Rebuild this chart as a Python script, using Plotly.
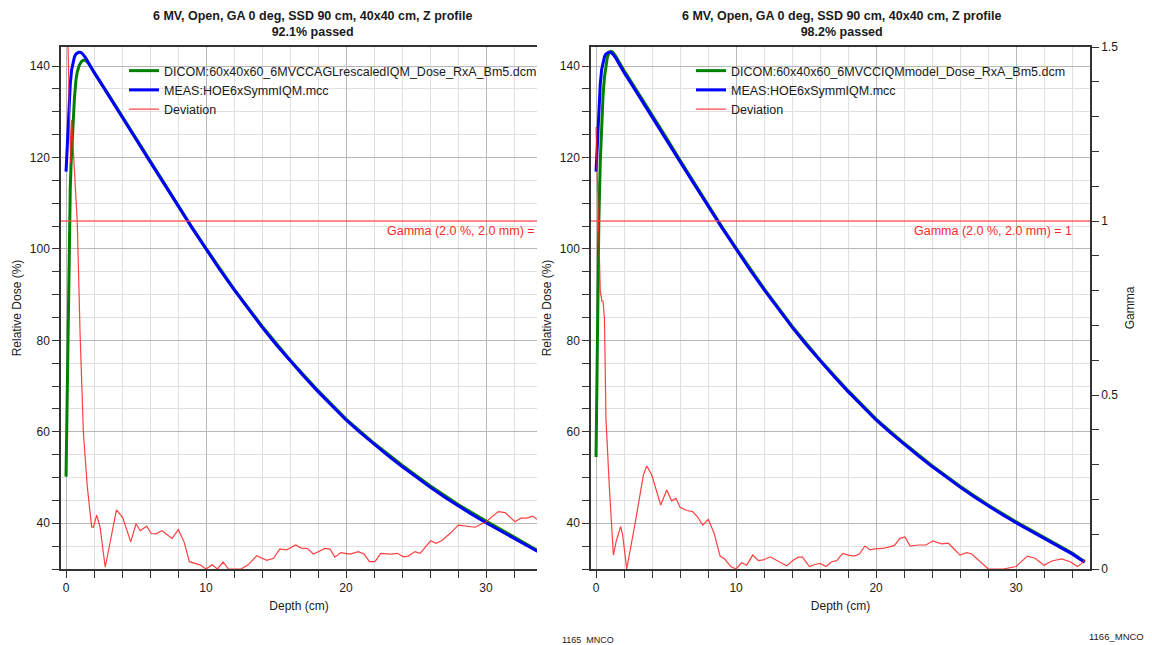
import plotly.graph_objects as go

# ---------------- data ----------------
MEAS_DEPTH = [0, 0.1, 0.2, 0.3, 0.4, 0.5, 0.6, 0.7, 0.8, 0.9, 1.0, 1.1, 1.2, 1.4, 1.6, 1.8,
              2.0, 2.5, 3, 4, 5, 6, 7, 8, 9, 10, 11, 12, 13, 14, 15, 16, 17, 18, 19, 20,
              21, 22, 23, 24, 25, 26, 27, 28, 29, 30, 31, 32, 33, 34, 34.9]
MEAS_DOSE = [116.9, 124.5, 131.0, 136.0, 139.2, 141.0, 142.0, 142.6, 142.9, 143.0, 143.0, 142.9,
             142.6, 141.8, 140.7, 139.6, 138.6, 136.2, 133.8, 128.9, 124.0, 119.1, 114.2, 109.3,
             104.6, 100.0, 95.4, 91.1, 86.9, 82.9, 79.1, 75.5, 72.1, 68.8, 65.6, 62.6,
             59.9, 57.3, 54.8, 52.4, 50.1, 47.9, 45.8, 43.8, 41.9, 40.1, 38.4, 36.7, 35.0, 33.3, 31.5]

CALC_L_DEPTH = [0, 0.05, 0.1, 0.15, 0.2, 0.24, 0.3, 0.36, 0.45, 0.52, 0.6, 0.71, 0.8, 0.95,
                1.1, 1.25, 1.4, 1.6, 1.8, 2.0, 2.5, 3, 4, 5, 6, 7, 8, 9, 10, 12, 14, 16, 18,
                20, 22, 24, 26, 28, 30, 32, 33, 34, 34.9]
CALC_L_DOSE = [50.2, 62.0, 72.0, 80.0, 92.0, 106.0, 113.0, 118.7, 124.5, 129.7, 133.0, 137.0,
               138.7, 140.2, 141.0, 141.3, 141.2, 140.6, 139.7, 138.7, 136.3, 133.9, 129.0,
               124.1, 119.2, 114.3, 109.4, 104.7, 100.1, 91.2, 83.1, 75.7, 69.0, 62.8, 57.5,
               52.7, 48.2, 44.1, 40.5, 37.0, 35.4, 33.7, 31.9]

CALC_R_DEPTH = [0, 0.05, 0.1, 0.15, 0.2, 0.3, 0.4, 0.5, 0.6, 0.7, 0.8, 0.9, 1.0, 1.1, 1.2, 1.4,
                1.6, 1.8, 2.0, 2.5, 3, 4, 5, 6, 7, 8, 9, 10, 12, 14, 16, 18, 20, 22, 24, 26,
                28, 30, 32, 34, 34.9]
CALC_R_DOSE = [54.5, 68.0, 82.0, 95.0, 106.0, 119.0, 127.5, 133.5, 137.5, 140.2, 141.8, 142.7,
               143.1, 143.2, 143.0, 142.2, 141.1, 140.0, 139.0, 136.6, 134.2, 129.3, 124.4,
               119.4, 114.5, 109.6, 104.8, 100.2, 91.3, 83.1, 75.7, 69.0, 62.8, 57.5, 52.6,
               48.1, 44.0, 40.3, 36.9, 33.5, 31.6]

GAMMA_L_DEPTH = [0.0, 0.33, 0.4, 0.8, 1.0, 1.24, 1.52, 1.83, 1.95, 2.19, 2.43, 2.8, 3.6, 4.05,
                 4.62, 5.0, 5.3, 5.76, 6.08, 6.43, 6.85, 7.58, 8.02, 8.43, 8.81, 9.57, 10.0,
                 10.43, 10.81, 11.22, 11.6, 12.5, 13.0, 13.62, 14.33, 14.83, 15.27, 15.76,
                 16.4, 16.8, 17.24, 17.67, 18.5, 18.86, 19.2, 19.62, 20.29, 20.88, 21.29,
                 21.67, 22.07, 22.48, 23.2, 23.67, 24.1, 24.45, 24.93, 25.29, 26.05, 26.43,
                 26.83, 27.48, 28.02, 28.62, 29.21, 30.0, 30.88, 31.36, 32.07, 32.48, 32.9,
                 33.33, 33.62, 34.0]
GAMMA_L = [1.75, 1.166, 1.29, 1.0, 0.68, 0.39, 0.236, 0.121, 0.12, 0.155, 0.12, 0.005, 0.17,
           0.148, 0.078, 0.13, 0.11, 0.123, 0.102, 0.101, 0.11, 0.088, 0.113, 0.078, 0.021,
           0.012, 0.0, 0.012, 0.0, 0.02, 0.0, 0.0, 0.012, 0.038, 0.025, 0.031, 0.058, 0.055,
           0.069, 0.06, 0.059, 0.043, 0.059, 0.057, 0.034, 0.047, 0.043, 0.05, 0.043, 0.021,
           0.021, 0.045, 0.043, 0.045, 0.035, 0.037, 0.05, 0.045, 0.081, 0.074, 0.081, 0.104,
           0.126, 0.124, 0.12, 0.136, 0.165, 0.162, 0.136, 0.146, 0.146, 0.152, 0.143, 0.145]

GAMMA_R_DEPTH = [0.0, 0.1, 0.2, 0.3, 0.42, 0.5, 0.6, 0.71, 0.95, 1.24, 1.43, 1.76, 1.9, 2.19,
                 2.79, 3.38, 3.62, 3.98, 4.62, 5.05, 5.4, 5.71, 6.0, 6.48, 6.9, 7.24, 7.62,
                 8.02, 8.43, 8.86, 9.21, 9.62, 10.0, 10.4, 10.76, 11.19, 11.6, 11.95, 12.43,
                 13.02, 13.62, 14.1, 14.45, 14.74, 15.24, 15.64, 16.0, 16.43, 16.83, 17.19,
                 17.62, 18.02, 18.43, 18.81, 19.21, 19.57, 19.93, 20.5, 21.0, 21.3, 21.71,
                 22.07, 22.43, 23.02, 23.57, 24.05, 24.69, 25.17, 26.0, 26.48, 26.83, 28.02,
                 29.1, 30.0, 30.81, 31.36, 32.0, 32.55, 33.26, 33.86, 34.38, 34.69, 34.93]
GAMMA_R = [1.27, 1.12, 0.97, 0.8, 0.77, 0.77, 0.72, 0.43, 0.236, 0.04, 0.078, 0.122, 0.098,
           0.0, 0.131, 0.27, 0.296, 0.27, 0.184, 0.227, 0.196, 0.203, 0.177, 0.168, 0.165,
           0.15, 0.126, 0.143, 0.103, 0.037, 0.028, 0.007, 0.0, 0.018, 0.011, 0.04, 0.024,
           0.026, 0.035, 0.021, 0.009, 0.026, 0.034, 0.034, 0.007, 0.013, 0.016, 0.007, 0.021,
           0.024, 0.045, 0.04, 0.037, 0.043, 0.066, 0.055, 0.058, 0.059, 0.063, 0.067, 0.088,
           0.092, 0.066, 0.069, 0.069, 0.081, 0.072, 0.074, 0.04, 0.047, 0.043, 0.0, 0.0,
           0.007, 0.037, 0.031, 0.011, 0.023, 0.029, 0.021, 0.007, 0.016, 0.028]

GAMMA_LIMIT = 1.0
TITLE_LINE = "6 MV, Open, GA 0 deg, SSD 90 cm, 40x40 cm, Z profile"
PASS_L = "92.1% passed"
PASS_R = "98.2% passed"
NAME_CALC_L = "DICOM:60x40x60_6MVCCAGLrescaledIQM_Dose_RxA_Bm5.dcm"
NAME_CALC_R = "DICOM:60x40x60_6MVCCIQMmodel_Dose_RxA_Bm5.dcm"
NAME_MEAS = "MEAS:HOE6xSymmIQM.mcc"
NAME_DEV = "Deviation"
GAMMA_TEXT_L = "Gamma (2.0 %, 2.0 mm) ="
GAMMA_TEXT_R = "Gamma (2.0 %, 2.0 mm) = 1"

# ---------------- styling ----------------
W, H = 1152, 645
FONT = "Liberation Sans, Arial, sans-serif"
GREEN = "rgb(0,128,0)"
BLUE = "rgb(0,0,255)"
RED = "rgba(255,30,30,0.85)"
RED_LINE = "rgba(255,70,70,0.85)"
AXC = "#333333"
GRID_MAJ = "#b8b8b8"
GRID_MIN = "#e0e0e0"

def px_x(p):
    return p / W

def px_y(p):
    return 1 - p / H

Y_DOM = [px_y(569), px_y(47)]
XL_DOM = [px_x(61), px_x(537)]
XR_DOM = [px_x(591), px_x(1090)]

fig = go.Figure()

# left panel
fig.add_trace(go.Scatter(x=CALC_L_DEPTH, y=CALC_L_DOSE, mode="lines", name=NAME_CALC_L,
                         line=dict(color=GREEN, width=3), xaxis="x", yaxis="y", legend="legend"))
fig.add_trace(go.Scatter(x=MEAS_DEPTH, y=MEAS_DOSE, mode="lines", name=NAME_MEAS,
                         line=dict(color=BLUE, width=3), xaxis="x", yaxis="y", legend="legend"))
fig.add_trace(go.Scatter(x=GAMMA_L_DEPTH, y=GAMMA_L, mode="lines", name=NAME_DEV,
                         line=dict(color=RED, width=1.2), xaxis="x", yaxis="y2", legend="legend"))
# right panel
fig.add_trace(go.Scatter(x=CALC_R_DEPTH, y=CALC_R_DOSE, mode="lines", name=NAME_CALC_R,
                         line=dict(color=GREEN, width=3), xaxis="x2", yaxis="y3", legend="legend2"))
fig.add_trace(go.Scatter(x=MEAS_DEPTH, y=MEAS_DOSE, mode="lines", name=NAME_MEAS,
                         line=dict(color=BLUE, width=3), xaxis="x2", yaxis="y3", legend="legend2"))
fig.add_trace(go.Scatter(x=GAMMA_R_DEPTH, y=GAMMA_R, mode="lines", name=NAME_DEV,
                         line=dict(color=RED, width=1.2), xaxis="x2", yaxis="y4", legend="legend2"))

tickfont = dict(family=FONT, size=12, color="#1a1a1a")
titlefont = dict(family=FONT, size=12, color="#1a1a1a")

def xaxis(domain, anchor, rng):
    return dict(domain=domain, anchor=anchor, range=rng, tick0=0, dtick=10,
                ticks="outside", ticklen=7, tickcolor=AXC, tickwidth=1,
                showline=True, linecolor=AXC, linewidth=1.5, mirror=True,
                showgrid=True, gridcolor=GRID_MAJ, gridwidth=1, zeroline=False,
                tickfont=tickfont, automargin=False,
                title=dict(text="Depth (cm)", font=titlefont, standoff=7),
                minor=dict(dtick=2, ticks="outside", ticklen=7, tickcolor=AXC,
                           showgrid=True, gridcolor=GRID_MIN, gridwidth=1))

def doseaxis(anchor):
    return dict(domain=Y_DOM, anchor=anchor, range=[30, 144.16], tick0=0, dtick=20,
                ticks="outside", ticklen=7, tickcolor=AXC, tickwidth=1,
                showline=True, linecolor=AXC, linewidth=1.5, mirror=False,
                showgrid=True, gridcolor=GRID_MAJ, gridwidth=1, zeroline=False,
                tickfont=tickfont, automargin=False,
                title=dict(text="Relative Dose (%)", font=titlefont, standoff=6),
                minor=dict(dtick=5, ticks="outside", ticklen=7, tickcolor=AXC,
                           showgrid=True, gridcolor=GRID_MIN, gridwidth=1))

legend_font = dict(family=FONT, size=12.5, color="#1a1a1a")

layout = dict(
    template="none",
    width=W, height=H, autosize=False,
    margin=dict(l=0, r=0, t=0, b=0, pad=0),
    paper_bgcolor="white", plot_bgcolor="white",
    font=dict(family=FONT, size=12, color="#1a1a1a"),
    showlegend=True,
    xaxis=xaxis(XL_DOM, "y", [-0.36, 33.64]),
    yaxis=doseaxis("x"),
    yaxis2=dict(overlaying="y", side="right", anchor="x", range=[0, 1.5], visible=False,
                showgrid=False, automargin=False),
    xaxis2=xaxis(XR_DOM, "y3", [-0.36, 35.28]),
    yaxis3=doseaxis("x2"),
    yaxis4=dict(overlaying="y3", side="right", anchor="x2", range=[0, 1.5], tick0=0, dtick=0.5,
                ticks="outside", ticklen=7, tickcolor=AXC, showline=True, linecolor=AXC,
                linewidth=1.5, showgrid=False, zeroline=False, tickfont=tickfont,
                automargin=False,
                title=dict(text="Gamma", font=titlefont, standoff=8),
                minor=dict(dtick=0.1, ticks="outside", ticklen=7, tickcolor=AXC, showgrid=False)),
    legend=dict(x=px_x(124), y=px_y(56), xanchor="left", yanchor="top",
                bgcolor="rgba(255,255,255,0)", borderwidth=0,
                font=legend_font, tracegroupgap=0),
    legend2=dict(x=px_x(691), y=px_y(56), xanchor="left", yanchor="top",
                 bgcolor="rgba(255,255,255,0)", borderwidth=0,
                 font=legend_font, tracegroupgap=0),
    shapes=[
        dict(type="line", xref="x domain", x0=0, x1=1, yref="y2", y0=GAMMA_LIMIT,
             y1=GAMMA_LIMIT, line=dict(color=RED_LINE, width=1.5), layer="above"),
        dict(type="line", xref="x2 domain", x0=0, x1=1, yref="y4", y0=GAMMA_LIMIT,
             y1=GAMMA_LIMIT, line=dict(color=RED_LINE, width=1.5), layer="above"),
    ],
    annotations=[
        dict(text=f"<b>{TITLE_LINE}<br>{PASS_L}</b>", xref="paper", yref="paper",
             x=px_x(312), y=px_y(24), xanchor="center", yanchor="middle", showarrow=False,
             font=dict(family=FONT, size=12.5, color="#1a1a1a")),
        dict(text=f"<b>{TITLE_LINE}<br>{PASS_R}</b>", xref="paper", yref="paper",
             x=px_x(841), y=px_y(24), xanchor="center", yanchor="middle", showarrow=False,
             font=dict(family=FONT, size=12.5, color="#1a1a1a")),
        dict(text=GAMMA_TEXT_L, xref="x", yref="y2", x=22.75, y=GAMMA_LIMIT,
             xanchor="left", yanchor="top", showarrow=False, yshift=-1,
             font=dict(family=FONT, size=12.5, color="rgb(255,40,40)")),
        dict(text=GAMMA_TEXT_R, xref="x2", yref="y4", x=22.6, y=GAMMA_LIMIT,
             xanchor="left", yanchor="top", showarrow=False, yshift=-1,
             font=dict(family=FONT, size=12.5, color="rgb(255,40,40)")),
        dict(text="1165  MNCO", xref="paper", yref="paper", x=px_x(560), y=px_y(640),
             xanchor="left", yanchor="middle", showarrow=False,
             font=dict(family=FONT, size=9, color="#1a1a1a")),
        dict(text="1166_MNCO", xref="paper", yref="paper", x=px_x(1146), y=px_y(636),
             xanchor="right", yanchor="middle", showarrow=False,
             font=dict(family=FONT, size=9.5, color="#1a1a1a")),
    ],
)
fig.update_layout(**layout)

fig.write_html("out.html",
               config={"displayModeBar": False},
               post_script="document.body.style.margin='0';document.body.style.overflow='hidden';")
